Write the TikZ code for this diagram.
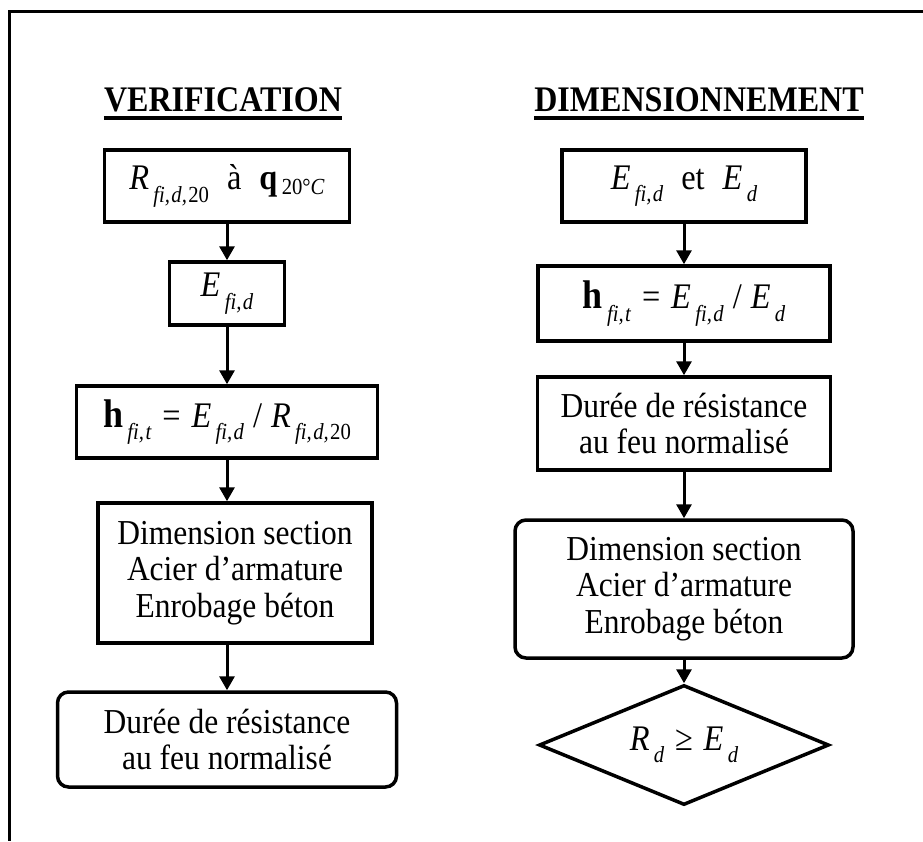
\documentclass[tikz,border=0pt]{standalone}
\usepackage{fontspec}
\setmainfont[FakeStretch=0.9]{Liberation Serif}
\newfontfamily\headfont[FakeStretch=0.89]{Liberation Serif}
\usetikzlibrary{arrows.meta,shapes.geometric}

% text sizes
\newcommand{\boxtxt}{\fontsize{35}{36.5}\selectfont}
\newcommand{\mathtxt}{\fontsize{36}{36}\selectfont}
% lowered small subscript, set slightly apart from its letter
\newcommand{\lowsub}[2][0.35em]{\hspace{0.12em}\raisebox{-#1}{\fontsize{23}{23}\selectfont #2}}
\newcommand{\cm}{,\hspace{0.06em}}
\newcommand{\etaH}{{\fontsize{40}{40}\selectfont\textbf{h}}}
\newcommand{\eqsign}{\hspace{0.3em}=\hspace{0.3em}}
\newcommand{\geqsign}{\hspace{0.3em}≥\hspace{0.3em}}
\newcommand{\slashsign}{\hspace{0.25em}/\hspace{0.25em}}

\tikzset{
  stepbox/.style={draw, line width=3.5pt, rectangle, align=center, inner sep=0pt,
    font=\boxtxt},
  roundbox/.style={stepbox, rounded corners=11pt},
  testbox/.style={draw, line width=3.5pt, diamond, aspect=2.4, inner sep=0pt,
    font=\mathtxt},
  arr/.style={line width=3pt, -{Triangle[width=15pt,length=14pt]}},
  heading/.style={font=\headfont\bfseries\fontsize{36}{36}\selectfont, inner sep=0pt},
  uline/.style={line width=4pt}
}

\begin{document}
\begin{tikzpicture}[x=1pt,y=-1pt]
\useasboundingbox (0,0) rectangle (923,841);

% outer frame (top and left edges)
\draw[line width=3pt] (923,11) -- (9,11) -- (9,841);

% headings
\node[heading] (hv) at (223,100) {VERIFICATION};
\node[heading] (hd) at (699,100) {DIMENSIONNEMENT};
\draw[uline] ([yshift=-6pt]hv.base west) -- ([yshift=-6pt]hv.base east);
\draw[uline] ([yshift=-6pt]hd.base west) -- ([yshift=-6pt]hd.base east);

% left column: verification
\node[stepbox, font=\mathtxt, minimum width=245pt, minimum height=72pt] (v1) at (227,186)
  {\textit{R}\lowsub{\textit{fi\cm d\cm}20}\hspace{0.5em}à\hspace{0.5em}\textbf{q}\lowsub[0.12em]{20°\textit{C}}};
\node[stepbox, font=\mathtxt, minimum width=115pt, minimum height=63pt] (v2) at (227,293.5)
  {\textit{E}\lowsub{\textit{fi\cm d}}};
\node[stepbox, font=\mathtxt, minimum width=301pt, minimum height=72pt] (v3) at (227,422)
  {\etaH\lowsub{\textit{fi\cm t}}\eqsign\textit{E}\lowsub{\textit{fi\cm d}}\slashsign\textit{R}\lowsub{\textit{fi\cm d\cm}20}};
\node[stepbox, minimum width=274pt, minimum height=140pt] (v4) at (235,573)
  {Dimension section\\Acier d’armature\\Enrobage béton};
\node[roundbox, minimum width=339pt, minimum height=95pt] (v5) at (227,739.5)
  {Durée de résistance\\au feu normalisé};

\draw[arr] (v1) -- (v2);
\draw[arr] (v2) -- (v3);
\draw[arr] (v3.south) -- (v3.south |- v4.north);
\draw[arr] (v3.south |- v4.south) -- (v5.north);

% right column: dimensioning
\node[stepbox, font=\mathtxt, minimum width=244pt, minimum height=72pt] (d1) at (684,186)
  {\textit{E}\lowsub{\textit{fi\cm d}}\hspace{0.5em}et\hspace{0.5em}\textit{E}\lowsub{\textit{d}}};
\node[stepbox, font=\mathtxt, minimum width=292pt, minimum height=75pt] (d2) at (684,303.5)
  {\etaH\lowsub{\textit{fi\cm t}}\eqsign\textit{E}\lowsub{\textit{fi\cm d}}\slashsign\textit{E}\lowsub{\textit{d}}};
\node[stepbox, minimum width=293pt, minimum height=93pt] (d3) at (684,423.5)
  {Durée de résistance\\au feu normalisé};
\node[roundbox, minimum width=338pt, minimum height=138pt] (d4) at (684,589)
  {Dimension section\\Acier d’armature\\Enrobage béton};
\node[testbox, minimum width=290pt, minimum height=120pt] (d5) at (684,745)
  {\textit{R}\lowsub{\textit{d}}\geqsign\textit{E}\lowsub{\textit{d}}};

\draw[arr] (d1) -- (d2);
\draw[arr] (d2) -- (d3);
\draw[arr] (d3) -- (d4);
\draw[arr] (d4) -- (d5);
\end{tikzpicture}
\end{document}
